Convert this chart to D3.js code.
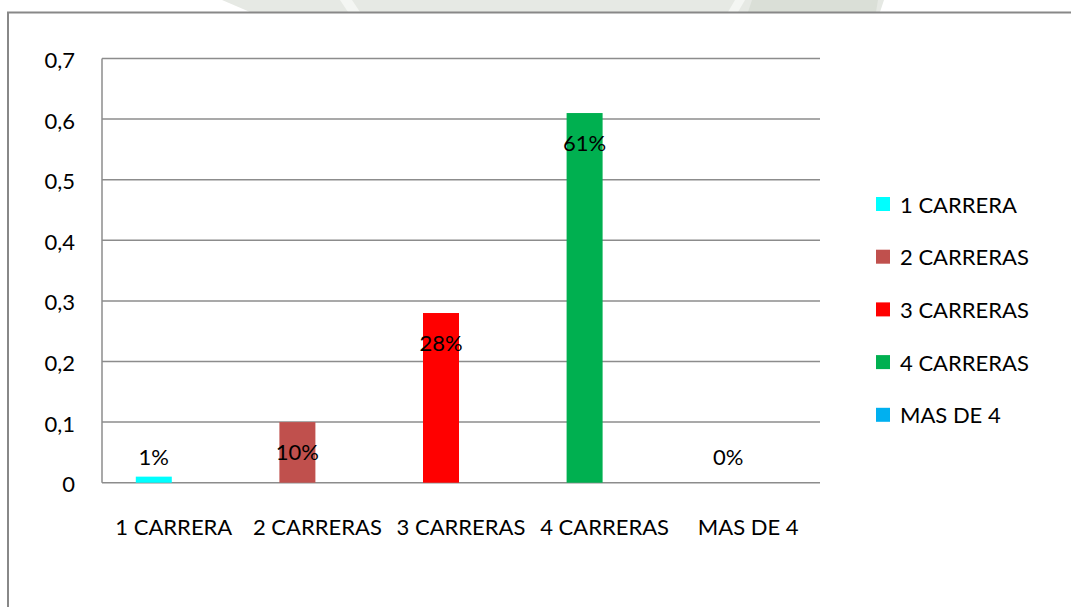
<!DOCTYPE html>
<html>
<head>
<meta charset="utf-8">
<script src="https://cdn.jsdelivr.net/npm/d3@7"></script>
<style>
  html, body { margin: 0; padding: 0; background: #fff; }
  svg text { font-family: Lato, "Open Sans", sans-serif; fill: #000; }
</style>
</head>
<body>
<svg id="chart" width="1071" height="607"></svg>
<script>
// Distribución por número de carreras
const categories = ["1 CARRERA", "2 CARRERAS", "3 CARRERAS", "4 CARRERAS", "MAS DE 4"];
const values = [0.01, 0.10, 0.28, 0.61, 0];
const valueLabels = ["1%", "10%", "28%", "61%", "0%"];
const colors = ["#00FFFF", "#C0504D", "#FF0000", "#00B050", "#00B0F0"];
const yTicks = [0, 0.1, 0.2, 0.3, 0.4, 0.5, 0.6, 0.7];
const yTickLabels = ["0", "0,1", "0,2", "0,3", "0,4", "0,5", "0,6", "0,7"];

const svg = d3.select("#chart");
const fontSize = "22px";

// faint emblem above the frame
svg.append("path")
  .attr("d", "M222,0 L884,0 L880,12 L250,12 Z")
  .attr("fill", "#e6e9e4");
svg.append("path")
  .attr("d", "M752,0 L878,0 L876,12 L748,12 Z")
  .attr("fill", "#dadfd7");
svg.append("path")
  .attr("d", "M340,0 L352,0 L360,12 L348,12 Z")
  .attr("fill", "#f4f6f3");
svg.append("path")
  .attr("d", "M735,0 L745,0 L738,12 L728,12 Z")
  .attr("fill", "#f4f6f3");

// chart frame (left and top edges visible)
svg.append("path")
  .attr("d", "M8,607 L8,12.5 L1071,12.5")
  .attr("fill", "none")
  .attr("stroke", "#888")
  .attr("stroke-width", 2);

const plot = { left: 102, right: 820, top: 58.5, bottom: 482.7 };

const x = d3.scaleBand().domain(categories).range([plot.left, plot.right]).padding(0);
// two slots per category; the value bar occupies the first slot
const xSlot = d3.scaleBand().domain(["valor", "resto"]).range([-38, 34]).padding(0);
const y = d3.scaleLinear().domain([0, 0.7]).range([plot.bottom, plot.top]);

// horizontal gridlines
svg.append("g")
  .selectAll("line")
  .data(yTicks.filter(t => t > 0))
  .join("line")
  .attr("x1", plot.left).attr("x2", plot.right)
  .attr("y1", d => y(d)).attr("y2", d => y(d))
  .attr("stroke", "#8c8c8c").attr("stroke-width", 1.5);

// axis lines
svg.append("line")
  .attr("x1", plot.left).attr("x2", plot.left)
  .attr("y1", plot.top).attr("y2", plot.bottom)
  .attr("stroke", "#8c8c8c").attr("stroke-width", 1.5);
svg.append("line")
  .attr("x1", plot.left).attr("x2", plot.right)
  .attr("y1", plot.bottom).attr("y2", plot.bottom)
  .attr("stroke", "#8c8c8c").attr("stroke-width", 1.5);

// y tick labels
svg.append("g")
  .selectAll("text")
  .data(yTicks)
  .join("text")
  .attr("x", 75)
  .attr("y", d => y(d) + 4)
  .attr("text-anchor", "end")
  .attr("dominant-baseline", "middle")
  .style("font-size", fontSize)
  .text((d, i) => yTickLabels[i]);

// x category labels
svg.append("g")
  .selectAll("text")
  .data(categories)
  .join("text")
  .attr("x", d => x(d) + x.bandwidth() / 2)
  .attr("y", 529)
  .attr("text-anchor", "middle")
  .attr("dominant-baseline", "middle")
  .style("font-size", fontSize)
  .text(d => d);

const barW = xSlot.bandwidth();
const barX = c => x(c) + x.bandwidth() / 2 + xSlot("valor");

// bars
svg.append("g")
  .selectAll("rect")
  .data(categories)
  .join("rect")
  .attr("x", d => barX(d))
  .attr("width", barW)
  .attr("y", (d, i) => y(values[i]))
  .attr("height", (d, i) => y(0) - y(values[i]))
  .attr("fill", (d, i) => colors[i]);

// value labels
svg.append("g")
  .selectAll("text")
  .data(categories)
  .join("text")
  .attr("x", d => barX(d) + barW / 2)
  .attr("y", (d, i) => Math.min(y(values[i]) + 32, y(0) - 23))
  .attr("text-anchor", "middle")
  .attr("dominant-baseline", "middle")
  .style("font-size", fontSize)
  .text((d, i) => valueLabels[i]);

// legend
const legend = svg.append("g")
  .selectAll("g")
  .data(categories)
  .join("g")
  .attr("transform", (d, i) => `translate(876, ${204 + i * 52.7})`);
legend.append("rect")
  .attr("x", 0).attr("y", -7)
  .attr("width", 14).attr("height", 14)
  .attr("fill", (d, i) => colors[i]);
legend.append("text")
  .attr("x", 24).attr("y", 3)
  .attr("dominant-baseline", "middle")
  .style("font-size", fontSize)
  .text(d => d);
</script>
</body>
</html>
